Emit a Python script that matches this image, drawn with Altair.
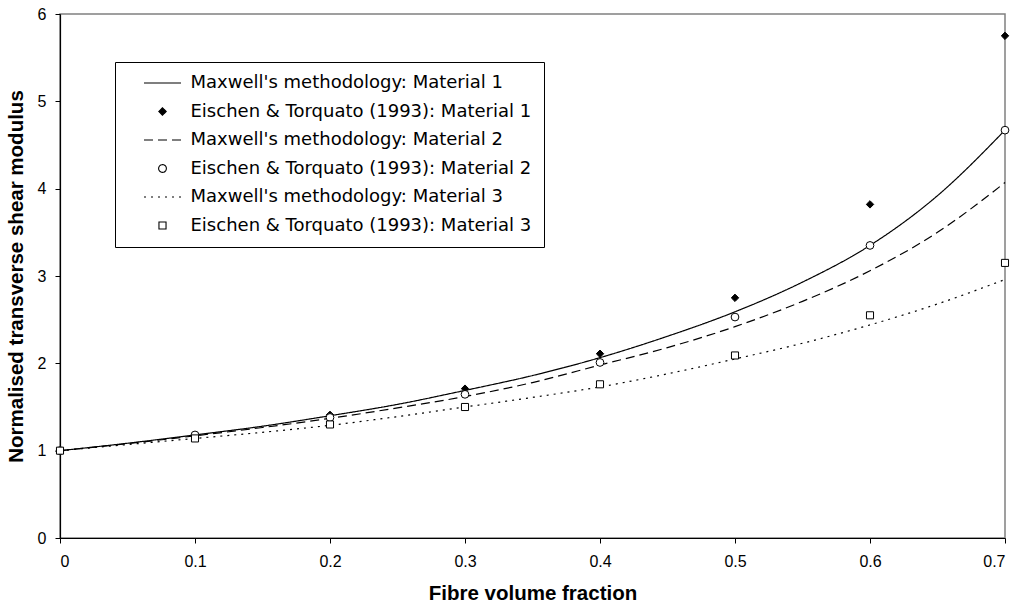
import altair as alt
import pandas as pd

# ---- data ----
vf_curve = [0.0, 0.05, 0.1, 0.15, 0.2, 0.25, 0.3, 0.35, 0.4, 0.45, 0.5, 0.55, 0.6, 0.65, 0.7]
maxwell_1 = [1.0, 1.085, 1.18, 1.28, 1.40, 1.53, 1.69, 1.86, 2.065, 2.31, 2.59, 2.93, 3.35, 3.92, 4.67]
maxwell_2 = [1.0, 1.08, 1.17, 1.265, 1.37, 1.49, 1.62, 1.78, 1.98, 2.18, 2.42, 2.71, 3.06, 3.50, 4.07]
maxwell_3 = [1.0, 1.07, 1.14, 1.21, 1.29, 1.39, 1.50, 1.61, 1.73, 1.88, 2.05, 2.23, 2.44, 2.68, 2.96]

vf_points = [0.0, 0.1, 0.2, 0.3, 0.4, 0.5, 0.6, 0.7]
eischen_1 = [1.0, 1.18, 1.41, 1.71, 2.11, 2.75, 3.82, 5.75]
eischen_2 = [1.0, 1.18, 1.38, 1.645, 2.01, 2.53, 3.35, 4.67]
eischen_3 = [1.0, 1.14, 1.30, 1.50, 1.76, 2.09, 2.55, 3.15]

labels = [
    "Maxwell's methodology: Material 1",
    "Eischen & Torquato (1993): Material 1",
    "Maxwell's methodology: Material 2",
    "Eischen & Torquato (1993): Material 2",
    "Maxwell's methodology: Material 3",
    "Eischen & Torquato (1993): Material 3",
]
x_ticks = [0, 0.1, 0.2, 0.3, 0.4, 0.5, 0.6, 0.7]
y_ticks = [0, 1, 2, 3, 4, 5, 6]

# ---- tables ----
lines = pd.concat([
    pd.DataFrame({"vf": vf_curve, "g": maxwell_1, "series": labels[0]}),
    pd.DataFrame({"vf": vf_curve, "g": maxwell_2, "series": labels[2]}),
    pd.DataFrame({"vf": vf_curve, "g": maxwell_3, "series": labels[4]}),
])
points = pd.concat([
    pd.DataFrame({"vf": vf_points, "g": eischen_1, "series": labels[1]}),
    pd.DataFrame({"vf": vf_points, "g": eischen_2, "series": labels[3]}),
    pd.DataFrame({"vf": vf_points, "g": eischen_3, "series": labels[5]}),
])

FONT = "Liberation Sans"
LINE_SYMBOL = "M-3.7,0L3.7,0"

legend = alt.Legend(
    title=None, orient="none", legendX=55, legendY=48,
    strokeColor="black", padding=12, fillColor="white",
    labelFont="DejaVu Sans", labelFontSize=18, labelColor="black", labelOffset=19, labelLimit=600,
    symbolOffset=26.5, symbolStrokeWidth=1.1, rowPadding=10.5, symbolOpacity=1,
)

stroke_enc = alt.Stroke("series:N", scale=alt.Scale(domain=labels, range=["black"] * 6), legend=legend)

x_enc = alt.X("vf:Q", scale=alt.Scale(domain=[0, 0.7], nice=False, zero=False),
              axis=alt.Axis(values=x_ticks, title="Fibre volume fraction", format="~g"))
y_enc = alt.Y("g:Q", scale=alt.Scale(domain=[0, 6], nice=False),
              axis=alt.Axis(values=y_ticks, title="Normalised transverse shear modulus"))

line_layer = alt.Chart(lines).mark_line(strokeWidth=1.2, interpolate="monotone").encode(
    x=x_enc, y=y_enc,
    stroke=stroke_enc,
    strokeDash=alt.StrokeDash("series:N", scale=alt.Scale(
        domain=labels, range=[[1, 0], [1, 0], [9, 5], [1, 0], [2, 5], [1, 0]]), legend=legend),
)

point_layer = alt.Chart(points).mark_point(strokeWidth=1, opacity=1, filled=True).encode(
    x=x_enc, y=y_enc,
    stroke=stroke_enc,
    shape=alt.Shape("series:N", scale=alt.Scale(
        domain=labels, range=[LINE_SYMBOL, "diamond", LINE_SYMBOL, "circle", LINE_SYMBOL, "square"]),
        legend=legend),
    fill=alt.Fill("series:N", scale=alt.Scale(
        domain=labels, range=["black", "black", "black", "white", "black", "white"]), legend=legend),
    size=alt.Size("series:N", scale=alt.Scale(
        type="ordinal", domain=labels, range=[100, 55, 100, 60, 100, 50]), legend=legend),
)

chart = alt.layer(line_layer, point_layer).properties(
    width=945, height=524,
    autosize=alt.AutoSizeParams(type="none"),
    padding={"left": 60, "top": 14, "right": 10, "bottom": 72},
).configure_view(
    stroke="#808080", strokeWidth=1.5
).configure_axis(
    grid=False, domainColor="black", domainWidth=1.2, tickColor="black", tickSize=5,
    labelFont=FONT, labelFontSize=16, labelColor="black",
    titleFont=FONT, titleFontSize=20.5, titleFontWeight="bold", titleColor="black",
).configure_axisX(titlePadding=14, labelPadding=10).configure_axisY(titlePadding=11, labelPadding=9)

chart.save("out.html", embed_options={"renderer": "svg", "actions": False})
